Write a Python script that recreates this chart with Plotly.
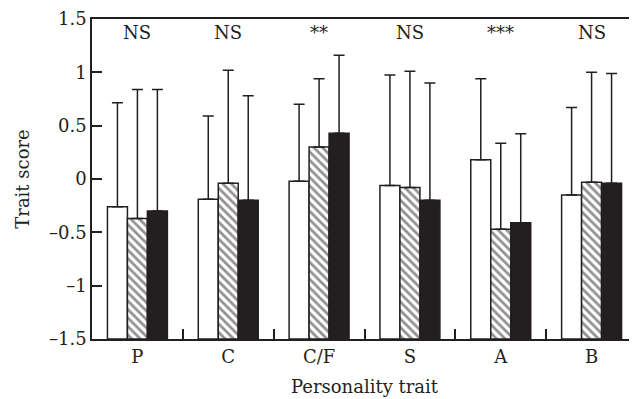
import plotly.graph_objects as go

categories = ["P", "C", "C/F", "S", "A", "B"]
significance = ["NS", "NS", "**", "NS", "***", "NS"]
group_names = ["Group 1", "Group 2", "Group 3"]
means = [
    [-0.26, -0.19, -0.02, -0.06, 0.18, -0.15],
    [-0.37, -0.04, 0.30, -0.08, -0.47, -0.03],
    [-0.30, -0.20, 0.43, -0.20, -0.41, -0.04],
]
upper = [
    [0.715, 0.59, 0.70, 0.975, 0.94, 0.67],
    [0.84, 1.02, 0.94, 1.01, 0.335, 1.00],
    [0.84, 0.78, 1.16, 0.90, 0.425, 0.99],
]
y_ticks = [-1.5, -1, -0.5, 0, 0.5, 1, 1.5]
y_ticktext = ["–1.5", "–1", "–0.5", "0", "0.5", "1", "1.5"]
baseline = -1.5

dark = "#231f20"
font_family = "DejaVu Serif, Liberation Serif, serif"
fs = 18

xs = list(range(len(categories)))
fig = go.Figure()
styles = [
    dict(color="white", pattern=None),
    dict(color="white", pattern=dict(shape="\\", fgcolor=dark, bgcolor="white", size=6, solidity=0.45)),
    dict(color=dark, pattern=None),
]
for g in range(3):
    heights = [m - baseline for m in means[g]]
    err = [u - m for u, m in zip(upper[g], means[g])]
    marker = dict(color=styles[g]["color"], line=dict(color=dark, width=1.5))
    if styles[g]["pattern"]:
        marker["pattern"] = styles[g]["pattern"]
    fig.add_trace(go.Bar(
        x=xs, y=heights, base=baseline, name=group_names[g],
        marker=marker, width=0.22,
        error_y=dict(type="data", symmetric=False, array=err,
                     arrayminus=[0] * len(err), color=dark, thickness=1.5, width=5.5),
        showlegend=False,
    ))

# invisible trace for category-label axis
fig.add_trace(go.Scatter(x=xs, y=means[0], xaxis="x2", mode="markers",
                         marker=dict(opacity=0), showlegend=False, hoverinfo="skip"))

for i, s in enumerate(significance):
    fig.add_annotation(x=xs[i], y=1.37, text=s, showarrow=False,
                       font=dict(size=fs, family=font_family, color=dark),
                       xref="x", yref="y")

xrange = [-0.5, 5.5]
# the page body adds an 8px margin, so the figure is sized to compensate
fig.update_layout(
    width=629, height=391,
    margin=dict(l=84, r=0, t=11, b=60),
    plot_bgcolor="white", paper_bgcolor="white",
    barmode="group", bargap=0.34, bargroupgap=0,
    font=dict(family=font_family, size=fs, color=dark),
    xaxis=dict(range=xrange, tickvals=[0.5, 1.5, 2.5, 3.5, 4.5], ticks="inside",
               ticklen=10, tickwidth=1.5, tickcolor=dark, showticklabels=False,
               showline=True, linecolor=dark, linewidth=1.5, mirror=True,
               showgrid=False, zeroline=False, automargin=False),
    xaxis2=dict(range=xrange, overlaying="x", anchor="y", side="bottom",
                tickvals=xs, ticktext=categories, ticks="", showline=False,
                showgrid=False, zeroline=False, tickfont=dict(size=fs),
                ticklabelstandoff=5, automargin=False,
                title=dict(text="Personality trait", font=dict(size=fs), standoff=14)),
    yaxis=dict(range=[-1.5, 1.5], tickvals=y_ticks, ticktext=y_ticktext,
               ticks="inside", ticklen=10, tickwidth=1.5, tickcolor=dark,
               showline=True, linecolor=dark, linewidth=1.5,
               showgrid=False, zeroline=False, tickfont=dict(size=fs),
               automargin=False,
               title=dict(text="Trait score", font=dict(size=fs), standoff=15)),
)

fig.write_html("out.html")
